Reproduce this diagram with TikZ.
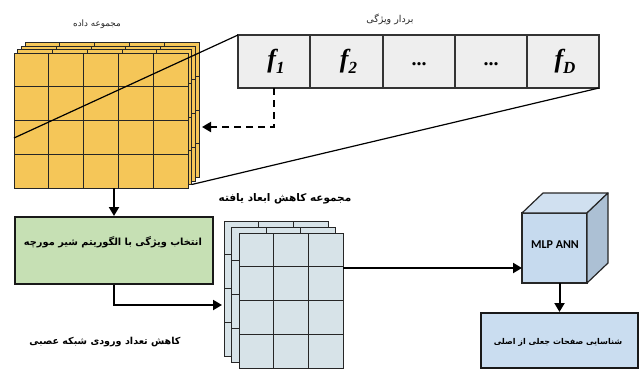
\documentclass[tikz,border=0pt]{standalone}
\usepackage{fontspec}
\usetikzlibrary{arrows.meta}
\TeXXeTstate=1
\newfontfamily\fa[Script=Arabic]{DejaVu Sans}
\newfontfamily\tnr{Liberation Serif}
\newfontfamily\carl{Carlito}
\definecolor{yellowfill}{RGB}{245,198,88}
\definecolor{greenfill}{RGB}{198,224,180}
\definecolor{gridblue}{RGB}{215,227,232}
\definecolor{cubefront}{RGB}{198,218,238}
\definecolor{cubetop}{RGB}{208,224,240}
\definecolor{cubeside}{RGB}{172,192,212}
\definecolor{outfill}{RGB}{202,221,240}
\definecolor{fvfill}{RGB}{238,238,238}
\tikzset{
  layerbox/.style={draw=black!85, line width=1pt, anchor=north west, inner sep=0pt, outer sep=0pt},
  gridline/.style={draw=black!85, line width=1pt},
  fvcell/.style={draw=black!80, line width=1.2pt, fill=fvfill, anchor=north west, minimum width=72pt, minimum height=53pt, inner sep=0pt, outer sep=0pt},
  arr/.style={draw=black, line width=2pt, -{Triangle[length=9pt,width=10pt]}},
  dasharr/.style={draw=black, line width=2pt, dash pattern=on 7pt off 5pt, -{Triangle[length=9pt,width=10pt]}},
  boxstyle/.style={draw=black!90, line width=2pt, anchor=north west, inner sep=0pt},
  lbl/.style={inner sep=0pt, text=black!85},
  flabel/.style={inner sep=0pt, font=\tnr\bfseries\itshape\fontsize{26}{26}\selectfont},
  dots/.style={inner sep=0pt, font=\tnr\bfseries\fontsize{20}{20}\selectfont},
}
\newcommand{\fsub}[1]{f\raisebox{-6pt}{\fontsize{17}{17}\selectfont #1}}
\begin{document}
\begin{tikzpicture}[x=1pt,y=-1pt]
\useasboundingbox (0,0) rectangle (639,370);

% dataset stack (yellow)
\foreach \k in {3,2,1,0} {
  \begin{scope}[shift={(3.7*\k,-3.5*\k)}]
    \node[layerbox, fill=yellowfill, minimum width=174pt, minimum height=135pt] (data\k) at (14,53) {};
    \foreach \i in {1,...,4} \draw[gridline] (14+34.8*\i,53) -- (14+34.8*\i,188);
    \foreach \j in {1,2,3} \draw[gridline] (14,53+33.75*\j) -- (188,53+33.75*\j);
  \end{scope}
}
\node[lbl, font=\fa\fontsize{8.8}{8.8}\selectfont] (datalbl) at (97,24) {\beginR مجموعه داده\endR};

% feature vector
\node[fvcell] (f1) at (238,35) {};
\node[fvcell] (f2) at (310.5,35) {};
\node[fvcell] (f3) at (383,35) {};
\node[fvcell] (f4) at (455,35) {};
\node[fvcell] (fD) at (527,35) {};
\node[flabel] at ([xshift=2pt]f1.center) {\fsub{1}};
\node[flabel] at ([xshift=2pt]f2.center) {\fsub{2}};
\node[dots] at ([yshift=-3pt]f3.center) {...};
\node[dots] at ([yshift=-3pt]f4.center) {...};
\node[flabel] at ([xshift=2pt]fD.center) {\fsub{D}};
\node[lbl, font=\fa\fontsize{9.5}{9.5}\selectfont] (fvlbl) at (390,19) {\beginR بردار ویژگی\endR};

% zoom lines
\coordinate (diagstart) at (14,138);
\draw[line width=1.2pt] (diagstart) -- (f1.north west);
\draw[line width=1.2pt] (data1.south east) -- (fD.south east);

% dashed arrow
\coordinate (dashend) at (202,127);
\draw[dasharr] (f1.south) |- (dashend);

% green box
\node[boxstyle, fill=greenfill, minimum width=198pt, minimum height=67pt] (green) at (14,216) {};
\node[inner sep=0pt, font=\fa\bfseries\fontsize{9.8}{9.8}\selectfont] (greentxt) at (113,242) {\beginR انتخاب ویژگی با الگوریتم شیر مورچه\endR};
\draw[arr] (green.north |- data0.south) -- (green.north);

% reduced stack (blue)
\foreach \k in {2,1,0} {
  \begin{scope}[shift={(-7.5*\k,-6*\k)}]
    \node[layerbox, fill=gridblue, minimum width=104pt, minimum height=135pt] (red\k) at (239,233) {};
    \foreach \i in {1,2} \draw[gridline] (239+34.67*\i,233) -- (239+34.67*\i,368);
    \foreach \j in {1,2,3} \draw[gridline] (239,233+33.75*\j) -- (343,233+33.75*\j);
  \end{scope}
}
\node[inner sep=0pt, font=\fa\bfseries\fontsize{10.5}{10.5}\selectfont] (redlbl) at (285,199) {\beginR مجموعه کاهش ابعاد یافته\endR};
\coordinate (redin) at (222,305);
\draw[arr] (green.south) |- (redin);
\node[inner sep=0pt, font=\fa\bfseries\fontsize{9.6}{9.6}\selectfont] (inplbl) at (105,342) {\beginR کاهش تعداد ورودی شبکه عصبی\endR};

% MLP cube
\node[draw=black!85, line width=1.2pt, fill=cubefront, anchor=north west, minimum width=65pt, minimum height=70pt, inner sep=0pt, outer sep=0pt] (mlp) at (522,213) {};
\draw[line width=1.2pt, draw=black!85, fill=cubetop, line join=round] (mlp.north west) -- ++(21,-20) -- ++(65,0) -- (mlp.north east) -- cycle;
\draw[line width=1.2pt, draw=black!85, fill=cubeside, line join=round] (mlp.north east) -- ++(21,-20) -- ++(0,70) -- (mlp.south east) -- cycle;
\node[inner sep=0pt, font=\carl\bfseries\fontsize{12}{12}\selectfont] (mlptxt) at (555,245) {MLP ANN};
\draw[arr] (red0.east |- 0,268) -- (mlp.west |- 0,268);

% output box
\node[boxstyle, fill=outfill, minimum width=157pt, minimum height=55pt] (out) at (480,312) {};
\node[inner sep=0pt, font=\fa\bfseries\fontsize{8}{8}\selectfont] (outtxt) at (558,342) {\beginR شناسایی صفحات جعلی از اصلی\endR};
\draw[arr] (out.north |- mlp.south) -- (out.north);
\end{tikzpicture}
\end{document}
